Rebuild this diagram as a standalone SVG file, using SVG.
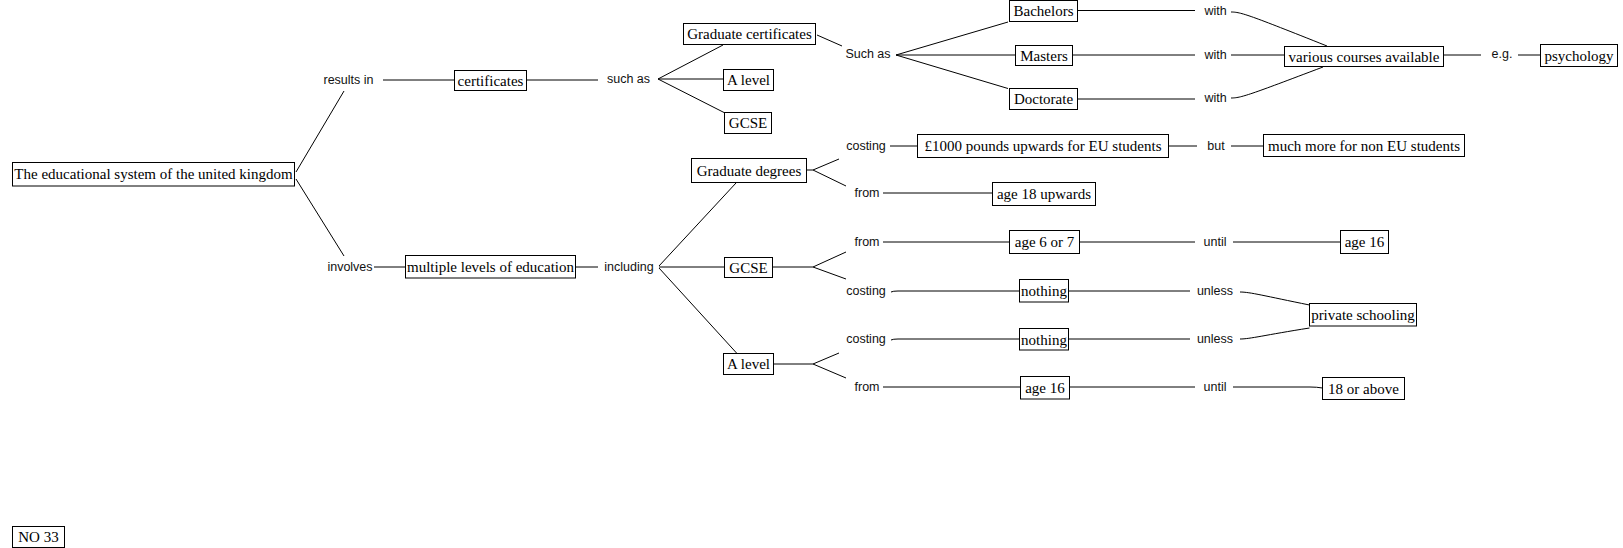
<svg xmlns="http://www.w3.org/2000/svg" width="1623" height="548" viewBox="0 0 1623 548">
<style>
rect.n{fill:#fff;stroke:#000;stroke-width:1}
text.n{font-family:"Liberation Serif","Times New Roman",serif;font-size:15px;fill:#000;text-anchor:middle}
text.l{font-family:"Liberation Sans",Arial,sans-serif;font-size:12.5px;fill:#111;text-anchor:middle}
#connectors path{fill:none;stroke:#000;stroke-width:1}
</style>
<rect width="1623" height="548" fill="#fff"/>
<g id="connectors">
<path d="M296,172 L344,91"/>
<path d="M296,179 L344,256"/>
<path d="M383,80 L454,80"/>
<path d="M374,267 L405.5,267"/>
<path d="M526,80 L598,80"/>
<path d="M658,79 L723,45 M658,79 L723.5,79 M658,79 L724,112.5"/>
<path d="M817,35 L842,46"/>
<path d="M896,55 L1008,22 M896,55 L1015.5,55 M896,55 L1008,88.5"/>
<path d="M1077,10.5 L1195,10.5 M1071.5,55 L1195,55 M1077,99 L1195,99"/>
<path d="M1231,12 C1241,12 1249,15 1327,46"/>
<path d="M1231,55 L1284.5,55"/>
<path d="M1231,98 C1241,98 1249,95 1323,67"/>
<path d="M1443.5,55 L1481,55 M1518,55 L1540.5,55"/>
<path d="M575.5,267 L598,267"/>
<path d="M659,266 L736,183 M659,267 L724.5,267 M659,268 L737,353.5"/>
<path d="M806.5,170 L813,170 L839,159 M813,170 L846,186"/>
<path d="M772.5,267 L813,267 L846,252 M813,267 L846,279"/>
<path d="M773.5,364 L813,364 L839,353 M813,364 L846,378"/>
<path d="M890,146 L917.5,146"/>
<path d="M1168.5,146 L1197,146 M1231,146 L1263.5,146"/>
<path d="M883,193 L992.5,193"/>
<path d="M883,242 L1009.5,242"/>
<path d="M1079.5,242 L1195,242 M1233,242 L1340.5,242"/>
<path d="M891,292 Q893,291 898,291 L1019.5,291"/>
<path d="M1068.5,291 L1190,291"/>
<path d="M1240,292 C1250,292 1265,296 1309.5,305"/>
<path d="M891,340 Q893,339 898,339 L1019.5,339"/>
<path d="M1068.5,339 L1190,339"/>
<path d="M1240,339 C1250,339 1265,335 1309.5,328"/>
<path d="M883,387 L1020.5,387"/>
<path d="M1069.5,387 L1195,387 M1233,387 L1310,387 Q1317,387 1322.5,388"/>
</g>
<g id="labels">
<text class="l" x="348.5" y="84">results in</text>
<text class="l" x="350" y="271">involves</text>
<text class="l" x="628.5" y="83">such as</text>
<text class="l" x="868" y="58">Such as</text>
<text class="l" x="1215.5" y="15">with</text>
<text class="l" x="1215.5" y="59">with</text>
<text class="l" x="1215.5" y="102">with</text>
<text class="l" x="1502" y="58">e.g.</text>
<text class="l" x="629" y="271">including</text>
<text class="l" x="866" y="150">costing</text>
<text class="l" x="867" y="197">from</text>
<text class="l" x="1216" y="150">but</text>
<text class="l" x="867" y="246">from</text>
<text class="l" x="1215" y="246">until</text>
<text class="l" x="866" y="295">costing</text>
<text class="l" x="1215" y="295">unless</text>
<text class="l" x="866" y="343">costing</text>
<text class="l" x="1215" y="343">unless</text>
<text class="l" x="867" y="391">from</text>
<text class="l" x="1215" y="391">until</text>
</g>
<g id="n-root"><rect class="n" x="12.5" y="162.5" width="282" height="23.5"/><text class="n" x="153.5" y="179">The educational system of the united kingdom</text></g>
<g id="n-certificates"><rect class="n" x="454.5" y="70.5" width="72" height="20"/><text class="n" x="490.5" y="85.5">certificates</text></g>
<g id="n-gradcert"><rect class="n" x="683.5" y="23.5" width="132" height="21"/><text class="n" x="749.5" y="39">Graduate certificates</text></g>
<g id="n-alevel1"><rect class="n" x="723.5" y="69.5" width="50" height="21"/><text class="n" x="748.5" y="85">A level</text></g>
<g id="n-gcse1"><rect class="n" x="724.5" y="112.5" width="47" height="21"/><text class="n" x="748" y="128">GCSE</text></g>
<g id="n-bachelors"><rect class="n" x="1009.5" y="0.5" width="68" height="21"/><text class="n" x="1043.5" y="16">Bachelors</text></g>
<g id="n-masters"><rect class="n" x="1015.5" y="45.5" width="57" height="20"/><text class="n" x="1044" y="60.5">Masters</text></g>
<g id="n-doctorate"><rect class="n" x="1009.5" y="88.5" width="68" height="21"/><text class="n" x="1043.5" y="104">Doctorate</text></g>
<g id="n-various"><rect class="n" x="1284.5" y="46.5" width="159" height="20"/><text class="n" x="1364" y="61.5">various courses available</text></g>
<g id="n-psychology"><rect class="n" x="1540.5" y="44.5" width="77" height="22"/><text class="n" x="1579" y="60.5">psychology</text></g>
<g id="n-multiple"><rect class="n" x="405.5" y="255.5" width="170" height="22.5"/><text class="n" x="490.5" y="272">multiple levels of education</text></g>
<g id="n-graddeg"><rect class="n" x="691.5" y="158.5" width="115" height="24"/><text class="n" x="749" y="175.5">Graduate degrees</text></g>
<g id="n-gcse2"><rect class="n" x="724.5" y="257.5" width="48" height="20"/><text class="n" x="748.5" y="272.5">GCSE</text></g>
<g id="n-alevel2"><rect class="n" x="723.5" y="353.5" width="50" height="21"/><text class="n" x="748.5" y="369">A level</text></g>
<g id="n-1000"><rect class="n" x="917.5" y="134.5" width="251" height="23"/><text class="n" x="1043" y="151">£1000 pounds upwards for EU students</text></g>
<g id="n-muchmore"><rect class="n" x="1263.5" y="134.5" width="201" height="22"/><text class="n" x="1364" y="150.5">much more for non EU students</text></g>
<g id="n-age18"><rect class="n" x="992.5" y="182.5" width="103" height="23"/><text class="n" x="1044" y="199">age 18 upwards</text></g>
<g id="n-age6"><rect class="n" x="1009.5" y="230.5" width="70" height="23"/><text class="n" x="1044.5" y="247">age 6 or 7</text></g>
<g id="n-age16a"><rect class="n" x="1340.5" y="230.5" width="48" height="23"/><text class="n" x="1364.5" y="247">age 16</text></g>
<g id="n-nothing1"><rect class="n" x="1019.5" y="279.5" width="49" height="22.5"/><text class="n" x="1044" y="296">nothing</text></g>
<g id="n-nothing2"><rect class="n" x="1019.5" y="328.5" width="49" height="21.5"/><text class="n" x="1044" y="344.5">nothing</text></g>
<g id="n-private"><rect class="n" x="1309.5" y="303.5" width="107" height="22.5"/><text class="n" x="1363" y="320">private schooling</text></g>
<g id="n-age16b"><rect class="n" x="1020.5" y="376.5" width="49" height="22.5"/><text class="n" x="1045" y="393">age 16</text></g>
<g id="n-18above"><rect class="n" x="1322.5" y="377.5" width="82" height="22"/><text class="n" x="1363.5" y="393.5">18 or above</text></g>
<g id="n-no33"><rect class="n" x="12.5" y="526.5" width="52" height="21"/><text class="n" x="38.5" y="542">NO 33</text></g>
</svg>
